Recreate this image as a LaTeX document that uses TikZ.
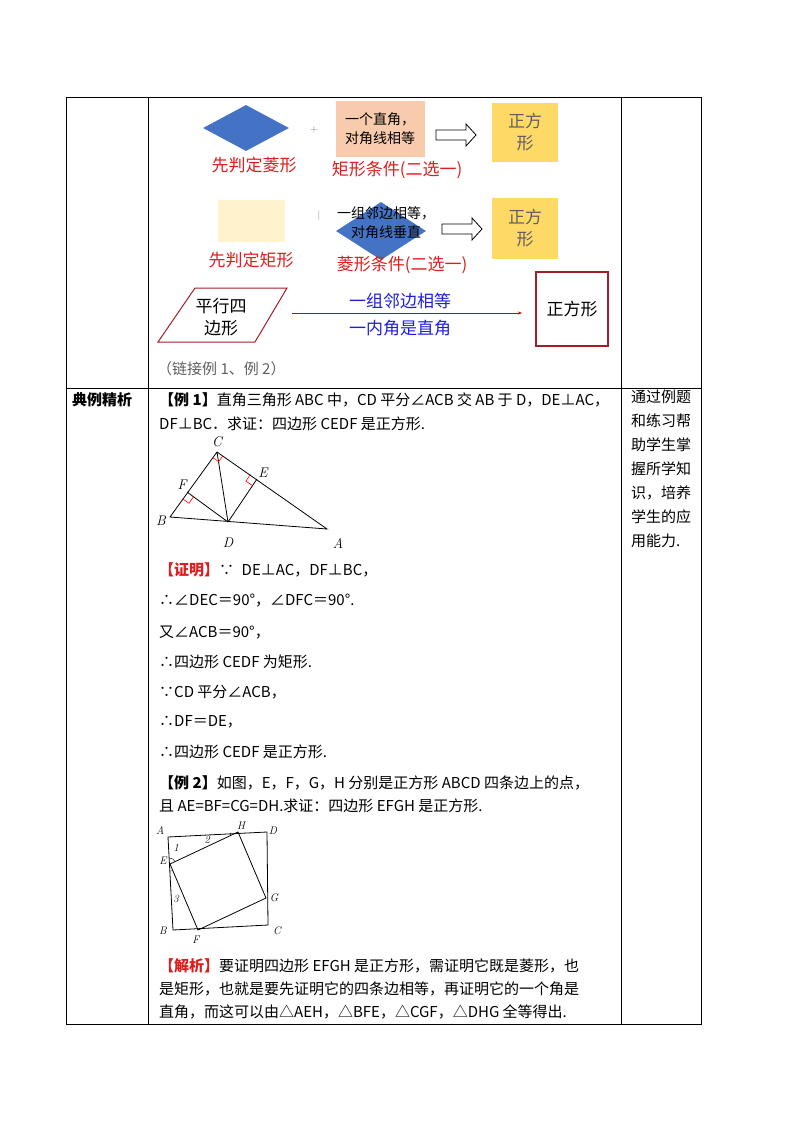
\documentclass[tikz,border=0pt]{standalone}
\usepackage{fontspec}
\newfontfamily\cjk{Noto Sans CJK SC}
\usetikzlibrary{shapes.geometric,arrows.meta,calc}
\definecolor{dblue}{RGB}{68,114,196}
\definecolor{salmon}{RGB}{248,203,173}
\definecolor{gold}{RGB}{255,217,102}
\definecolor{cream}{RGB}{255,242,204}
\definecolor{tred}{RGB}{220,30,30}
\definecolor{dred}{RGB}{160,30,40}
\definecolor{tblue}{RGB}{30,30,220}
\definecolor{greytxt}{RGB}{95,95,95}
\tikzset{
 txt/.style={anchor=west,inner sep=0pt,font=\cjk\fontsize{15}{16}\selectfont},
 big/.style={inner sep=0pt,font=\cjk\fontsize{17}{22}\selectfont,align=center},
 mid/.style={inner sep=0pt,font=\cjk\fontsize{14}{19}\selectfont,align=center},
 lab/.style={inner sep=0pt,font=\fontsize{14}{14}\selectfont\itshape},
 slab/.style={inner sep=0pt,font=\fontsize{11}{11}\selectfont\itshape},
 geo/.style={line width=0.8pt},
 ra/.style={draw=red,line width=0.6pt}
}
\newcommand{\hollowarrow}[2]{%
  \draw[line width=0.8pt,fill=white] ($(#1)+(0,-5)$) -- ($(#2)+(-10,-5)$) -- ($(#2)+(-10,-11)$) -- (#2) -- ($(#2)+(-10,11)$) -- ($(#2)+(-10,5)$) -- ($(#1)+(0,5)$) -- cycle;}
\begin{document}
\begin{tikzpicture}[x=1pt,y=-1pt]
\useasboundingbox (0,0) rectangle (800,1132);
% table
\draw[line width=0.6pt] (66,97) rectangle (701,1024);
\draw[line width=0.6pt] (148,97) -- (148,1024) (621,97) -- (621,1024) (66,388) -- (701,388);
% row 1 diagram
\node[diamond,fill=dblue,minimum width=86,minimum height=46,inner sep=0pt,aspect=1.9] (d1) at (246,128) {};
\node[text=gray,font=\fontsize{11}{11}\selectfont] (p1) at (314,130) {+};
\node[fill=salmon,minimum width=89,minimum height=56,mid] (s1) at (380,129) {一个直角，\\对角线相等};
\coordinate (a1s) at (436,135); \coordinate (a1e) at (476,135);
\hollowarrow{a1s}{a1e}
\node[fill=gold,minimum width=66,minimum height=59,big,text=greytxt] (g1) at (525,132) {正方\\形};
\node[big,text=tred] (t1) at (254,165) {先判定菱形};
\node[big,text=tred] (t2) at (397,170) {矩形条件(二选一)};
% row 2
\node[fill=cream,minimum width=67,minimum height=42] (c2) at (251,221) {};
\node[big,text=tred] (t3) at (251,260) {先判定矩形};
\node[text=gray,font=\fontsize{10}{10}\selectfont] (p2) at (319,216) {|};
\node[diamond,fill=dblue,minimum width=90,minimum height=58,inner sep=0pt,aspect=1.55] (d2) at (381,231) {};
\node[mid] (s2) at (386,223) {一组邻边相等，\\对角线垂直};
\coordinate (a2s) at (442,229); \coordinate (a2e) at (482,229);
\hollowarrow{a2s}{a2e}
\node[fill=gold,minimum width=66,minimum height=61,big,text=greytxt] (g2) at (525,228) {正方\\形};
\node[big,text=tred] (t4) at (402,265) {菱形条件(二选一)};
% row 3
\draw[dred,line width=1pt] (195,288) -- (287,288) -- (255,342) -- (158,342) -- cycle;
\node[big] (pg) at (221,317) {平行四\\边形};
\node[draw=dred,line width=1.2pt,minimum width=72,minimum height=74] (sq) at (572,309) {};
\node[big] at (sq) {正方形};
\coordinate (ps) at (292,313); \coordinate (pe) at (522,313);
\draw[red!80!black,line width=0.8pt,-{Stealth[length=4pt]}] (ps) -- (pe);
\node[big,text=tblue] (b1) at (400,301) {一组邻边相等};
\node[big,text=tblue] (b2) at (400,328) {一内角是直角};
\node[txt,text=greytxt] (lk) at (157,369) {（链接例 1、例 2）};
% row 2 columns
\node[txt,font=\cjk\bfseries\fontsize{15}{16}\selectfont] (h) at (72,400) {典例精析};
\node[anchor=north west,inner sep=0pt,font=\cjk\fontsize{15}{24}\selectfont,align=left] (rt) at (631,390) {通过例题\\和练习帮\\助学生掌\\握所学知\\识，培养\\学生的应\\用能力.};
% example 1
\node[txt] (l1) at (159,400) {\textbf{【例 1】}直角三角形 ABC 中，CD 平分∠ACB 交 AB 于 D，DE⊥AC，};
\node[txt] (l2) at (159,424) {DF⊥BC．求证：四边形 CEDF 是正方形.};
% triangle
\coordinate (C) at (217,452); \coordinate (B) at (170,517); \coordinate (A) at (327,529);
\coordinate (D) at (228,522); \coordinate (E) at (257,479); \coordinate (F) at (187,492);
\draw[geo] (C) -- (B) -- (A) -- cycle (C) -- (D) (D) -- (E) (D) -- (F);
\draw[ra] ($(C)!7pt!(B)$) -- ($(C)!7pt!(B)+(C)!7pt!(A)-(C)$) -- ($(C)!7pt!(A)$);
\draw[ra] ($(E)!8pt!(C)$) -- ($(E)!8pt!(C)+(E)!8pt!(D)-(E)$) -- ($(E)!8pt!(D)$);
\draw[ra] ($(F)!8pt!(B)$) -- ($(F)!8pt!(B)+(F)!8pt!(D)-(F)$) -- ($(F)!8pt!(D)$);
\node[lab] at (217,442) {C}; \node[lab] at (263,473) {E}; \node[lab] at (182,485) {F};
\node[lab] at (161,521) {B}; \node[lab] at (228,543) {D}; \node[lab] at (338,543) {A};
% proof
\node[txt] (pr1) at (159,570) {\textcolor{tred}{\textbf{【证明】}}∵\enspace DE⊥AC，DF⊥BC，};
\node[txt] (pr2) at (159,601) {∴∠DEC＝90°，∠DFC＝90°.};
\node[txt] (pr3) at (159,632) {又∠ACB＝90°，};
\node[txt] (pr4) at (159,662) {∴四边形 CEDF 为矩形.};
\node[txt] (pr5) at (159,692) {∵CD 平分∠ACB，};
\node[txt] (pr6) at (159,722) {∴DF＝DE，};
\node[txt] (pr7) at (159,752) {∴四边形 CEDF 是正方形.};
% example 2
\node[txt] (e1) at (159,783) {\textbf{【例 2】}如图，E，F，G，H 分别是正方形 ABCD 四条边上的点，};
\node[txt] (e2) at (159,806) {且 AE=BF=CG=DH.求证：四边形 EFGH 是正方形.};
\coordinate (SA) at (168,837); \coordinate (SD) at (267,832); \coordinate (SC) at (268,925); \coordinate (SB) at (173,930);
\coordinate (H) at (238,832); \coordinate (SE) at (170,864); \coordinate (SF) at (198,930); \coordinate (G) at (266,898);
\draw[geo] (SA) -- (SD) -- (SC) -- (SB) -- cycle;
\draw[geo] (SE) -- (H) -- (G) -- (SF) -- cycle;
\draw[line width=0.4pt] ($(SE)!6pt!(SA)$) arc[start angle=90,end angle=25,radius=6pt];
\draw[line width=0.4pt] ($(H)!8pt!(SA)$) arc[start angle=180,end angle=205,radius=8pt];
\draw[line width=0.4pt] ($(SE)!7pt!(SB)$) arc[start angle=270,end angle=290,radius=7pt];
\node[slab] at (160,831) {A}; \node[slab] at (241,826) {H}; \node[slab] at (273,831) {D};
\node[slab] at (163,861) {E}; \node[slab] at (176,848) {1}; \node[slab] at (207,840) {2};
\node[slab] at (176,899) {3}; \node[slab] at (274,898) {G};
\node[slab] at (163,931) {B}; \node[slab] at (196,940) {F}; \node[slab] at (277,931) {C};
% analysis
\node[txt] (an1) at (159,966) {\textcolor{tred}{\textbf{【解析】}}要证明四边形 EFGH 是正方形，需证明它既是菱形，也};
\node[txt] (an2) at (159,989) {是矩形，也就是要先证明它的四条边相等，再证明它的一个角是};
\node[txt] (an3) at (159,1012) {直角，而这可以由△AEH，△BFE，△CGF，△DHG 全等得出.};
\end{tikzpicture}
\end{document}
